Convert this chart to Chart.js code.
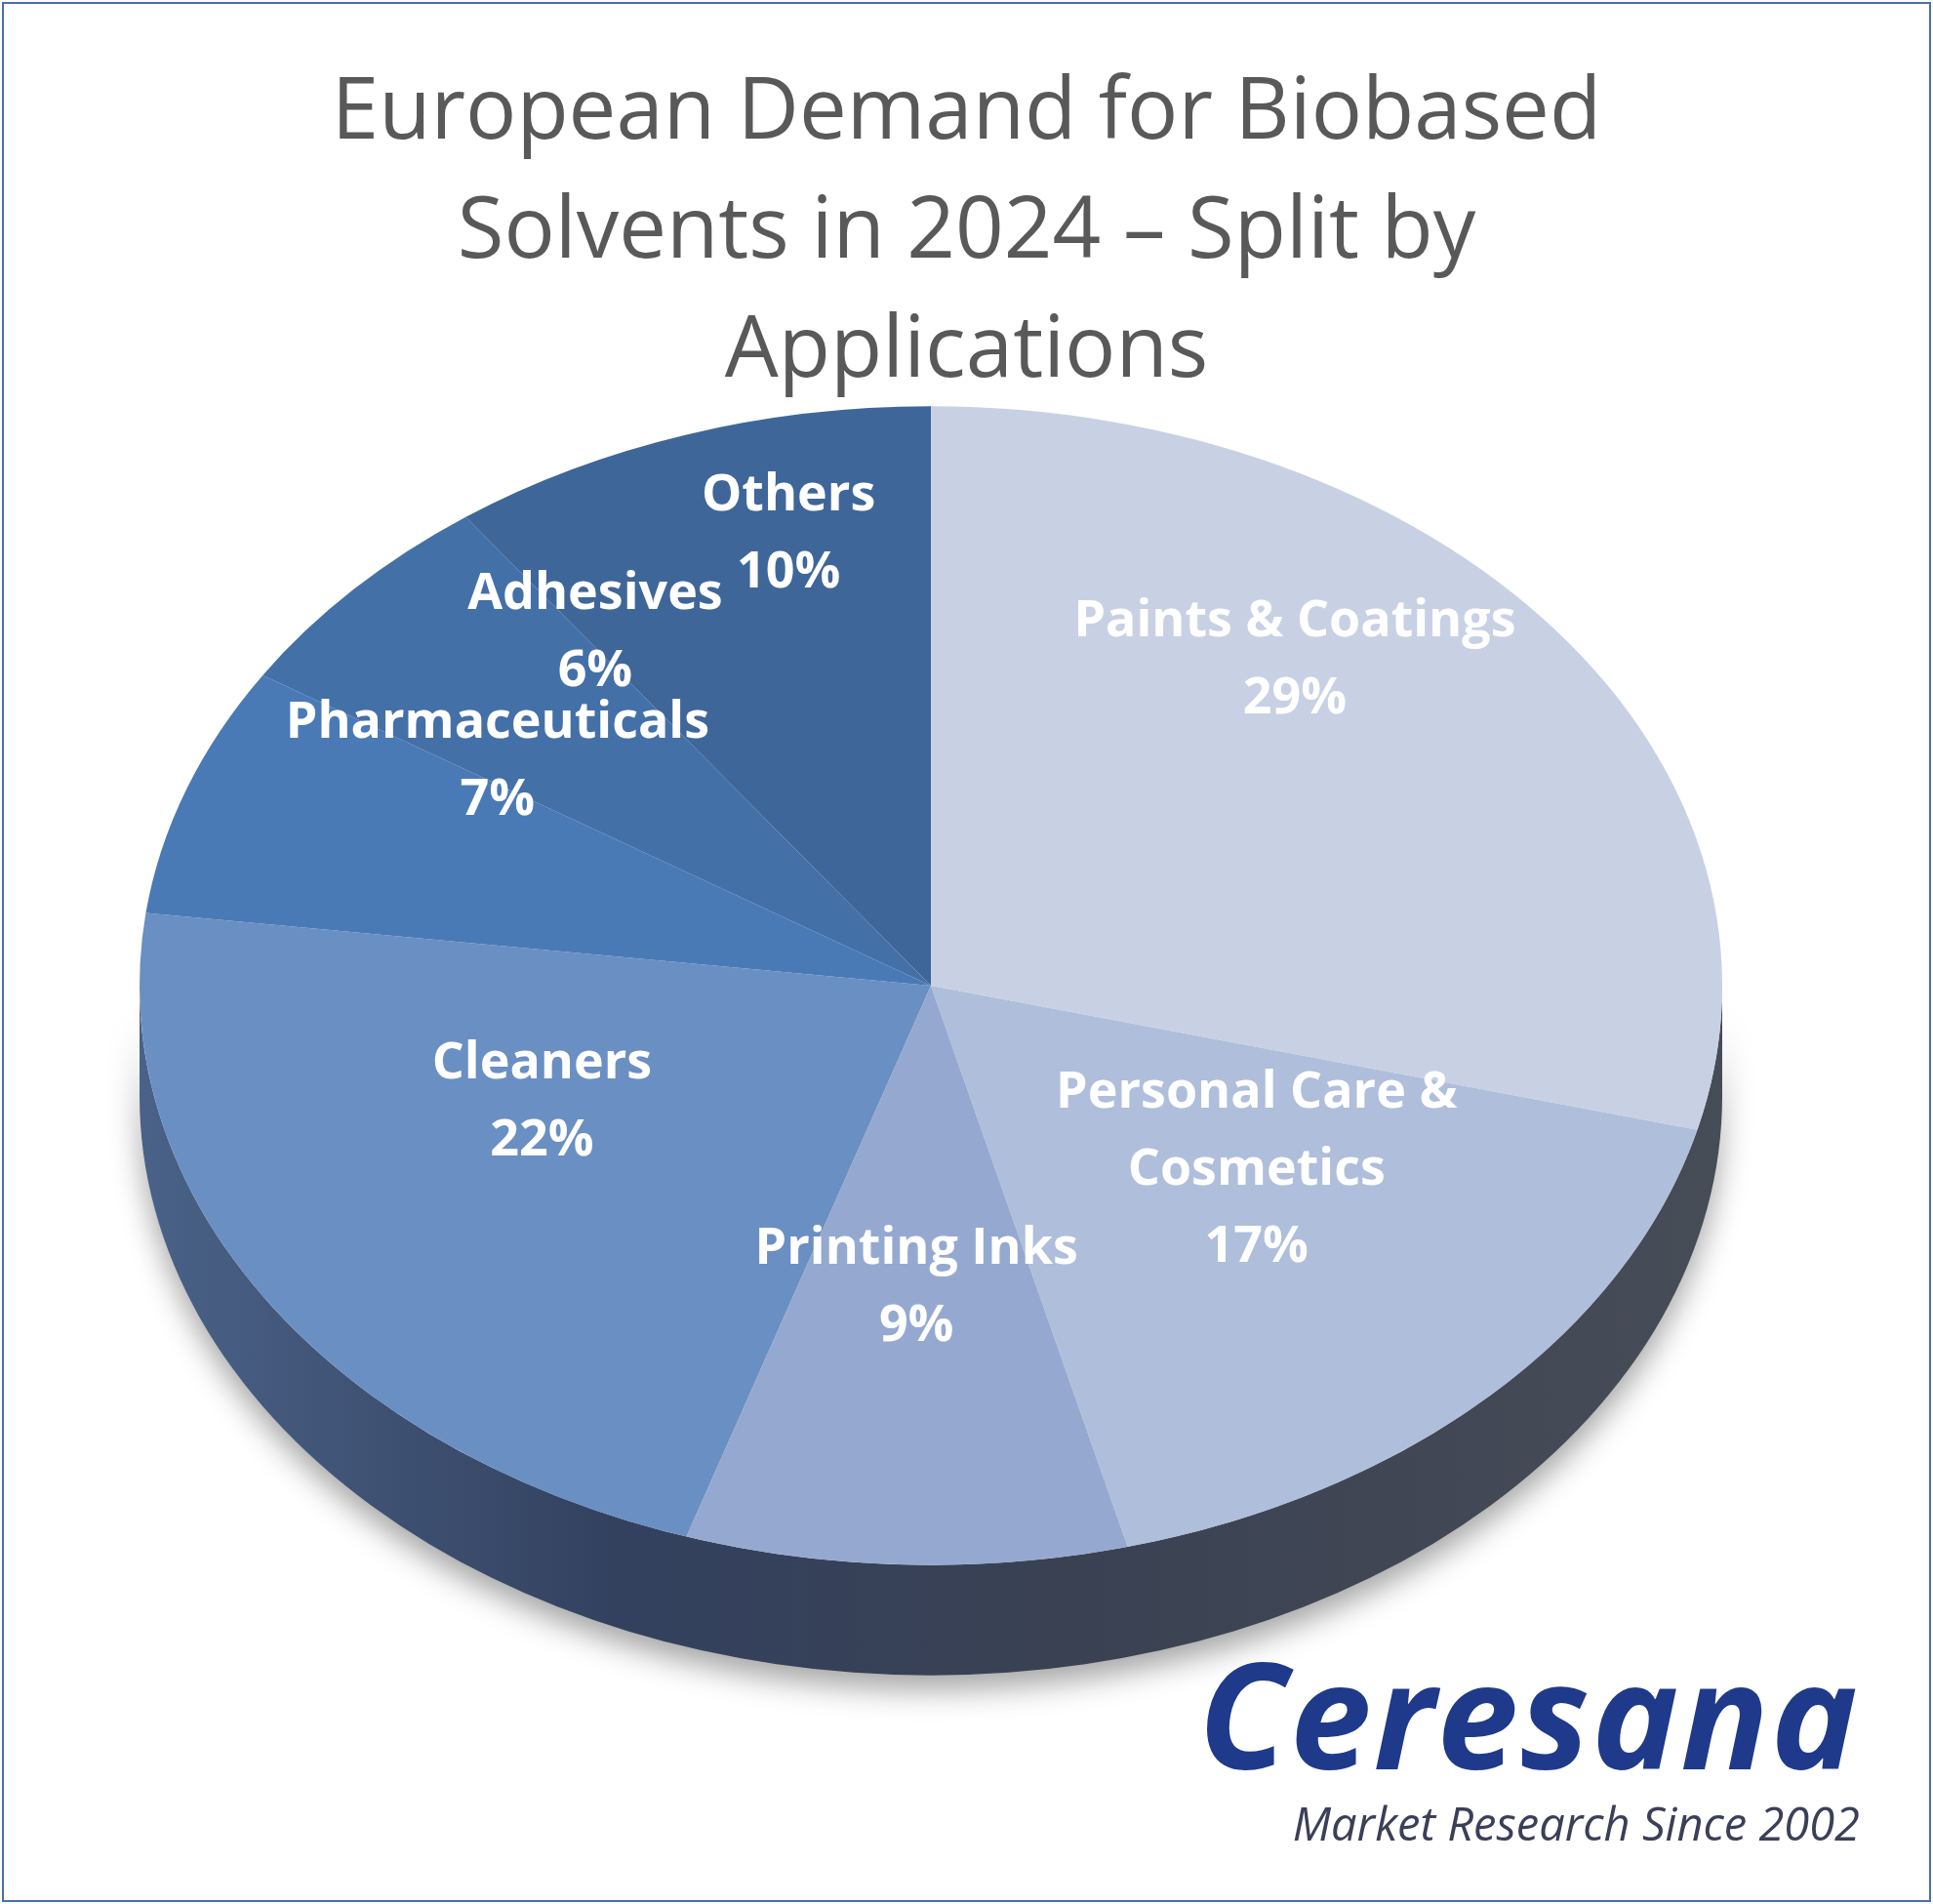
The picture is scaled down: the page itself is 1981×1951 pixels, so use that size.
<!DOCTYPE html>
<html><head><meta charset="utf-8">
<script src="https://cdn.jsdelivr.net/npm/chart.js@4"></script>
<style>
body{margin:0;background:#fff;}
#wrap{position:relative;width:1981px;height:1951px;}
#frame{position:absolute;left:2px;top:2px;width:1973px;height:1943px;border:2px solid #4a6fa5;}
#title{position:absolute;left:0;width:1981px;top:47px;text-align:center;font-family:"Open Sans",sans-serif;font-size:87px;line-height:122px;color:#595959;}
#logo{position:absolute;right:75px;top:1680px;text-align:right;font-family:"Open Sans",sans-serif;}
#logo .b{font-size:150px;font-weight:700;font-style:italic;color:#1f3a8a;line-height:150px;letter-spacing:2px}
#logo .s{font-size:47px;font-style:italic;color:#3b3f57;margin-top:6px}
canvas{position:absolute;left:0;top:0}
</style></head><body>
<div id="wrap">
<canvas id="c" width="1981" height="1951"></canvas>
<div id="title">European Demand for Biobased<br>Solvents in 2024 – Split by<br>Applications</div>
<div id="logo"><div class="b">Ceresana</div><div class="s">Market Research Since 2002</div></div>
<div id="frame"></div>
</div>
<script>
const categories=["Paints & Coatings","Personal Care & Cosmetics","Printing Inks","Cleaners","Pharmaceuticals","Adhesives","Others"];
const labelLines=[["Paints & Coatings","29%"],["Personal Care &","Cosmetics","17%"],["Printing Inks","9%"],["Cleaners","22%"],["Pharmaceuticals","7%"],["Adhesives","6%"],["Others","10%"]];
const values=[29,17,9,22,7,6,10];
const colors=["#c8d1e4","#afbedb","#95a9d0","#6a8fc2","#4a7ab6","#4470a8","#3f6698"];
const SY=0.732, DEPTH=113;
const tilt={id:'tilt',
 beforeDatasetsDraw(ch){
  const m=ch.getDatasetMeta(0).data[0];const cx=m.x,cy=m.y,r=m.outerRadius;const c=ch.ctx;
  c.save();
  c.shadowColor='rgba(0,0,0,0.35)';c.shadowBlur=30;c.shadowOffsetY=15;
  const g=c.createLinearGradient(cx-r,0,cx+r,0);
  g.addColorStop(0,'#4a6288');g.addColorStop(0.3,'#33415f');g.addColorStop(0.6,'#3a4152');g.addColorStop(1,'#474d57');
  c.fillStyle=g;
  c.beginPath();c.ellipse(cx,cy+DEPTH,r,r*SY,0,0,Math.PI);c.lineTo(cx-r,cy);c.ellipse(cx,cy,r,r*SY,0,Math.PI,0,true);c.closePath();c.fill();
  c.restore();
  c.save();c.translate(cx,cy);c.scale(1,SY);c.translate(-cx,-cy);
 },
 afterDatasetsDraw(ch){
  const c=ch.ctx;c.restore();
  const meta=ch.getDatasetMeta(0);
  c.save();c.fillStyle='#fff';c.font='bold 52px "Open Sans", sans-serif';c.textAlign='center';c.textBaseline='middle';
  meta.data.forEach((a,i)=>{
   const mid=(a.startAngle+a.endAngle)/2;const f=0.6;
   let dy=Math.sin(mid)*a.outerRadius*f*SY; dy*= dy>0?1.15:1.07;
   const x=a.x+Math.cos(mid)*a.outerRadius*f*0.97, y=a.y-100+dy;
   const L=labelLines[i];L.forEach((t,k)=>c.fillText(t,x,y+(k-(L.length-1)/2)*79));
  });
  c.restore();
 }};
new Chart(document.getElementById('c'),{type:'pie',
 data:{labels:categories,datasets:[{data:values,backgroundColor:colors,borderWidth:0}]},
 options:{responsive:false,animation:false,layout:{padding:{left:143,right:216,top:199,bottom:130}},
  plugins:{legend:{display:false},tooltip:{enabled:false}}},
 plugins:[tilt]});
</script></body></html>
